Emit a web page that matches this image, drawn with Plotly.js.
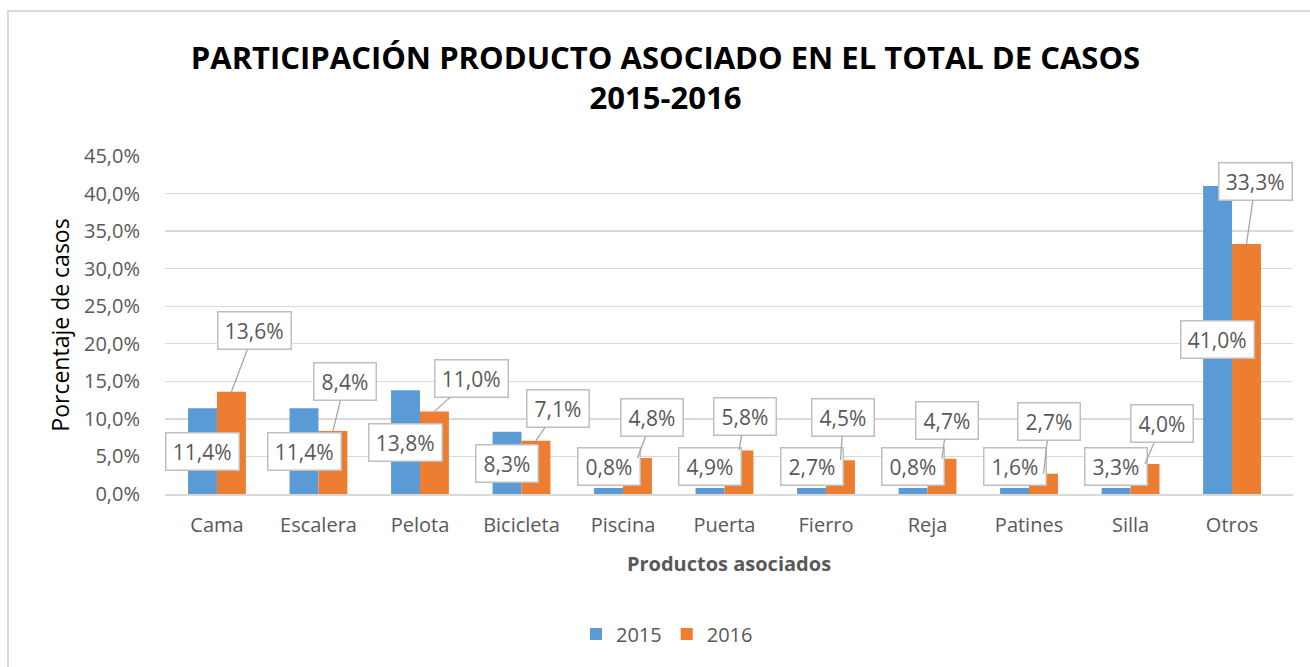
<!DOCTYPE html>
<html>
<head>
<meta charset="utf-8">
<script src="https://cdn.plot.ly/plotly-3.0.1.min.js"></script>
<style>
html,body{margin:0;padding:0;background:#fff;width:1310px;height:667px;overflow:hidden;}
#frame{position:absolute;left:7px;top:10px;width:1310px;height:667px;border-left:2px solid #d9d9d9;border-top:2px solid #d9d9d9;}
#plot{position:absolute;left:0;top:0;width:1310px;height:667px;}
</style>
</head>
<body>
<div id="frame"></div>
<div id="plot"></div>
<script>
// ---- data ----
const categories = ['Cama','Escalera','Pelota','Bicicleta','Piscina','Puerta','Fierro','Reja','Patines','Silla','Otros'];
const bars2015   = [11.4, 11.4, 13.8, 8.3, 0.8, 0.8, 0.8, 0.8, 0.8, 0.8, 41.0];
const labels2015 = [11.4, 11.4, 13.8, 8.3, 0.8, 4.9, 2.7, 0.8, 1.6, 3.3, 41.0];
const bars2016   = [13.6, 8.4, 11.0, 7.1, 4.8, 5.8, 4.5, 4.7, 2.7, 4.0, 33.3];
const yTicks = [0, 5, 10, 15, 20, 25, 30, 35, 40, 45];

// ---- label placement (pixel offsets from bar top) ----
const off2016x = [23, 12, 37, 22, 15, 6, 3, 5, 6, 17, 9];
const off2016y = [-61, -49, -33, -32, -40, -34, -43, -38, -52, -40, -62];
const off2015y = [-43, -43, -52, -32, 21, 21, 21, 21, 21, 21, -153];

const fmt = v => v.toFixed(1).replace('.', ',') + '%';
const grey = '#595959';
const FONT = 'Open Sans, Lato, sans-serif';
const bargap = 0.43;
const half = (1 - bargap) / 4;

const traces = [
  {type:'bar', name:'2015', x:categories, y:bars2015, marker:{color:'#5b9bd5'}, hoverinfo:'skip'},
  {type:'bar', name:'2016', x:categories, y:bars2016, marker:{color:'#ed7d31'}, hoverinfo:'skip'}
];

const boxStyle = txt => ({
  text: txt,
  font:{family:FONT, size:21, color:grey},
  bgcolor:'#ffffff', bordercolor:'#bfbfbf', borderwidth:1.5, borderpad:4,
  width: 10.5 * txt.length + 11, height: 28
});

const annotations = [];
categories.forEach((c, i) => {
  annotations.push(Object.assign(boxStyle(fmt(labels2015[i])), {
    x: i - half, y: bars2015[i], xref:'x', yref:'y',
    showarrow:false, yshift: off2015y[i], xanchor:'center', yanchor:'middle'
  }));
  annotations.push(Object.assign(boxStyle(fmt(bars2016[i])), {
    x: i + half, y: bars2016[i], xref:'x', yref:'y',
    showarrow:true, arrowhead:0, arrowwidth:1.3, arrowcolor:'#a6a6a6', standoff:0,
    ax: off2016x[i], ay: off2016y[i], axref:'pixel', ayref:'pixel'
  }));
});

const layout = {
  width:1310, height:667,
  margin:{l:165, r:17, t:156, b:173},
  paper_bgcolor:'rgba(0,0,0,0)', plot_bgcolor:'rgba(0,0,0,0)',
  separators:',.',
  barmode:'group', bargap:bargap, bargroupgap:0,
  font:{family:FONT, color:grey},
  title:{
    text:'<b>PARTICIPACIÓN PRODUCTO ASOCIADO EN EL TOTAL DE CASOS<br>2015-2016</b>',
    font:{family:FONT, size:31, color:'#000000'},
    xref:'container', x:0.508, xanchor:'center',
    yref:'container', y:1 - 69/667, yanchor:'top'
  },
  xaxis:{
    type:'category',
    tickfont:{family:FONT, size:20, color:grey},
    ticks:'outside', ticklen:12, tickcolor:'rgba(0,0,0,0)',
    showline:true, linecolor:'#d9d9d9', linewidth:1.5,
    showgrid:false, zeroline:false,
    title:{text:'<b>Productos asociados</b>', font:{family:FONT, size:20, color:grey}, standoff:20}
  },
  yaxis:{
    range:[0,45], tickvals:yTicks, ticktext:yTicks.map(fmt),
    tickfont:{family:FONT, size:20, color:grey},
    ticks:'outside', ticklen:20, tickcolor:'rgba(0,0,0,0)',
    showgrid:true, gridcolor:'#d9d9d9', gridwidth:1.3,
    zeroline:false, showline:false,
    title:{text:'Porcentaje de casos', font:{family:FONT, size:23, color:'#000000'}, standoff:7}
  },
  showlegend:true,
  legend:{
    orientation:'h', x:0.445, xanchor:'center', y:-0.414, yanchor:'middle',
    font:{family:FONT, size:20, color:grey}
  },
  annotations: annotations
};

Plotly.newPlot('plot', traces, layout, {staticPlot:true, displayModeBar:false});
</script>
</body>
</html>
